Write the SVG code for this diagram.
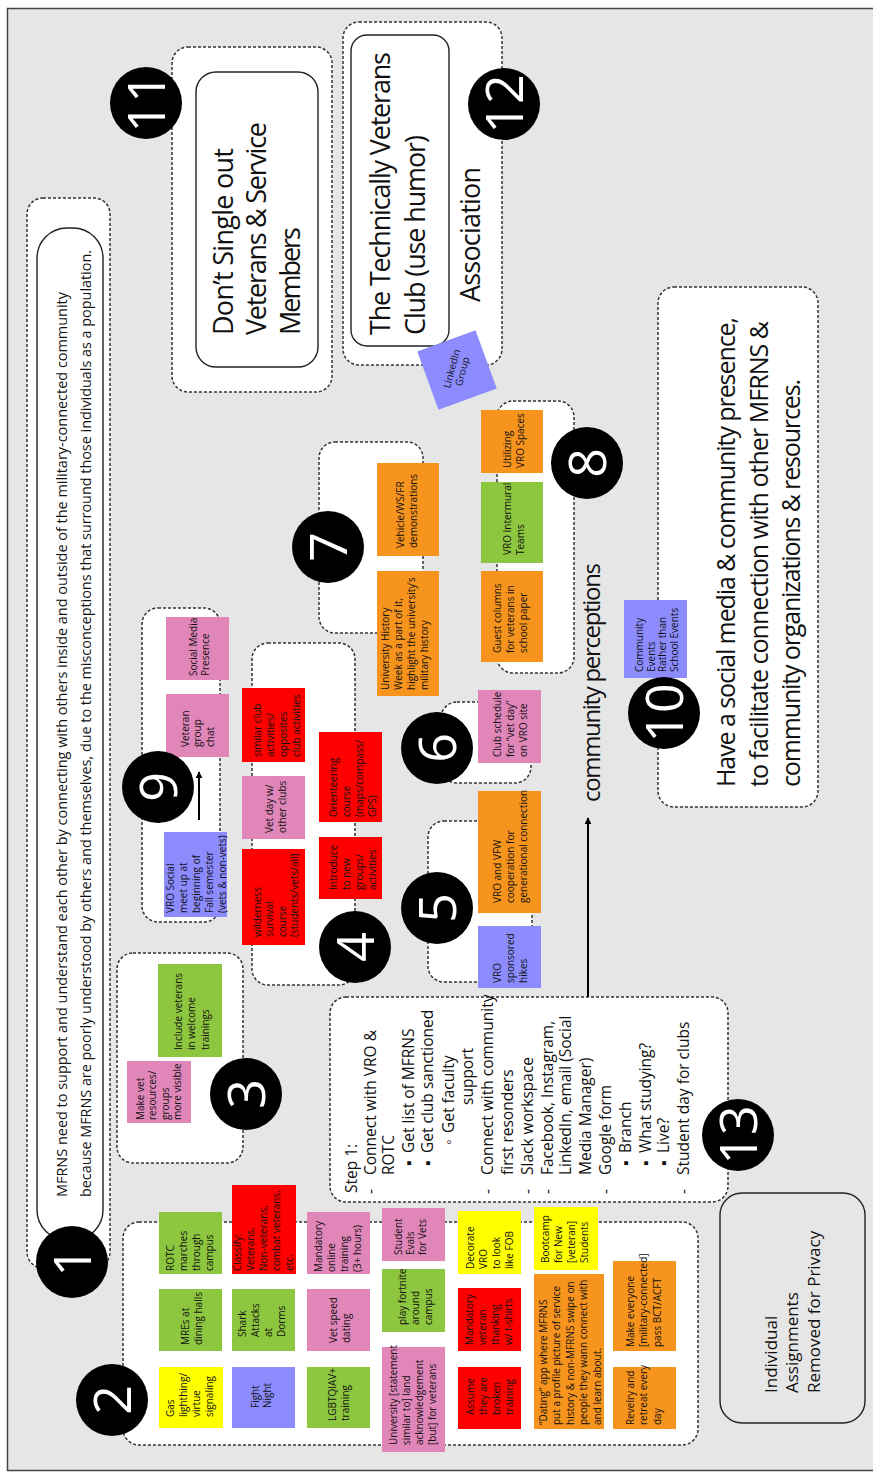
<svg xmlns="http://www.w3.org/2000/svg" width="873" height="1475" viewBox="0 0 873 1475">
<defs>
<marker id="ah" viewBox="0 0 10 10" refX="9" refY="5" markerWidth="7" markerHeight="7" orient="auto" markerUnits="userSpaceOnUse">
<path d="M0,0 L10,5 L0,10 z" fill="#000"/>
</marker>
<style>
.bg{fill:#e6e6e6;stroke:#444;stroke-width:1.5}
.zone{fill:#fff;stroke:#333;stroke-width:1.5;stroke-dasharray:3 2}
.card{fill:#fff;stroke:#222;stroke-width:1.4}
.cardg{fill:#e6e6e6;stroke:#222;stroke-width:1.4}
.y{fill:#ffff00}.g{fill:#8dc63f}.b{fill:#8c8cff}.r{fill:#ff0000}.p{fill:#e086b9}.o{fill:#f7941d}
.st{font-family:"Open Sans","Noto Sans",sans-serif;font-size:10px;fill:#111}
.num{font-family:"Open Sans","Noto Sans",sans-serif;font-size:52px;fill:#fff;text-anchor:middle}
.dot{fill:#000}
.big{font-family:"Open Sans","Noto Sans",sans-serif;fill:#111}
.lst{font-family:"Open Sans","Noto Sans",sans-serif;font-size:15.5px;fill:#111}
.wire{stroke:#000;stroke-width:2;fill:none}
</style>
</defs>

<rect x="-10" y="-10" width="900" height="1500" fill="#fff"/>
<rect class="bg" x="7.5" y="8.5" width="880" height="1462"/>

<!-- dashed zones -->
<g id="zones">
<rect class="zone" x="27" y="198" width="83" height="1070" rx="16"/>
<rect class="zone" x="123" y="1222" width="575" height="223" rx="16"/>
<rect class="zone" x="117" y="953" width="126" height="210" rx="16"/>
<rect class="zone" x="252" y="643" width="103" height="342" rx="16"/>
<rect class="zone" x="428" y="821" width="104" height="161" rx="16"/>
<rect class="zone" x="441" y="702" width="90" height="81" rx="16"/>
<rect class="zone" x="319" y="442" width="104" height="191" rx="16"/>
<rect class="zone" x="497" y="401" width="77" height="272" rx="16"/>
<rect class="zone" x="142" y="608" width="78" height="314" rx="16"/>
<rect class="zone" x="172" y="47" width="160" height="345" rx="16"/>
<rect class="zone" x="343" y="22" width="159" height="343" rx="16"/>
<rect class="zone" x="330" y="997" width="398" height="205" rx="16"/>
<rect class="zone" x="658" y="287" width="160" height="520" rx="16"/>
</g>

<!-- connectors -->
<g id="connectors">
<line class="wire" x1="199" y1="820" x2="199" y2="772" marker-end="url(#ah)"/>
<line class="wire" x1="588" y1="997" x2="588" y2="818" marker-end="url(#ah)" stroke-width="1.6"/>
</g>

<!-- 1: problem statement -->
<g id="n1">
<rect class="card" x="37" y="228" width="66" height="1012" rx="30"/>
<g transform="rotate(-90)">
<text class="big" font-size="15" x="-1197" y="67" textLength="905" lengthAdjust="spacingAndGlyphs">MFRNS need to support and understand each other by connecting with others inside and outside of the military-connected community</text>
<text class="big" font-size="15" x="-1197" y="91" textLength="947" lengthAdjust="spacingAndGlyphs">because MFRNS are poorly understood by others and themselves, due to the misconceptions that surround those individuals as a population.</text>
</g>
</g>

<!-- 11 -->
<g id="n11">
<rect class="card" x="196" y="72" width="122" height="295" rx="20"/>
<g transform="rotate(-90)" class="big" font-size="27">
<text x="-335" y="233" textLength="187">Don’t Single out</text>
<text x="-335" y="266" textLength="213">Veterans &amp; Service</text>
<text x="-335" y="300" textLength="108">Members</text>
</g>
</g>

<!-- 12 -->
<g id="n12">
<rect class="card" x="351" y="35" width="98" height="311" rx="16"/>
<g transform="rotate(-90)" class="big" font-size="27">
<text x="-335" y="390" textLength="283">The Technically Veterans</text>
<text x="-335" y="425" textLength="200">Club (use humor)</text>
<text x="-302" y="480" textLength="135">Association</text>
</g>
</g>

<g id="s-linkedin">
<rect class="b" x="-31" y="-31" width="62" height="62" transform="translate(457,370) rotate(-20)"/>
<text class="st" font-size="9" transform="translate(457,370) rotate(-75)" text-anchor="middle"><tspan x="0" y="-2">LinkedIn</tspan><tspan x="0" dy="11">Group</tspan></text>
</g>

<!-- 10 -->
<g id="n10">
<g transform="rotate(-90)" class="big" font-size="25">
<text x="-787" y="735" textLength="470">Have a social media &amp; community presence,</text>
<text x="-787" y="768" textLength="466">to facilitate connection with other MFRNS &amp;</text>
<text x="-787" y="800" textLength="408">community organizations &amp; resources.</text>
</g>
</g>

<g id="label-perceptions">
<text class="big" font-size="24" transform="rotate(-90)" x="-802" y="600" textLength="239">community perceptions</text>
</g>

<!-- 13 -->
<g id="n13">
<g transform="rotate(-90)" class="lst">
<text x="-1193" y="357">Step 1:</text>
<text x="-1194" y="375.5">-</text><text x="-1175" y="375.5">Connect with VRO &amp;</text>
<text x="-1175" y="393.5">ROTC</text>
<text x="-1166" y="413.5">▪</text><text x="-1153" y="413.5">Get list of MFRNS</text>
<text x="-1166" y="432.5">▪</text><text x="-1153" y="432.5">Get club sanctioned</text>
<text x="-1145" y="453.5">◦</text><text x="-1133" y="453.5">Get faculty</text>
<text x="-1105" y="472.5">support</text>
<text x="-1194" y="492.5">-</text><text x="-1175" y="492.5">Connect with community</text>
<text x="-1175" y="512.5">first resonders</text>
<text x="-1194" y="532.5">-</text><text x="-1175" y="532.5">Slack workspace</text>
<text x="-1194" y="552.5">-</text><text x="-1175" y="552.5">Facebook, Instagram,</text>
<text x="-1175" y="570.5">LinkedIn, email (Social</text>
<text x="-1175" y="590.5">Media Manager)</text>
<text x="-1194" y="610.5">-</text><text x="-1175" y="610.5">Google form</text>
<text x="-1166" y="630.5">▪</text><text x="-1153" y="630.5">Branch</text>
<text x="-1166" y="650.5">▪</text><text x="-1153" y="650.5">What studying?</text>
<text x="-1166" y="668.5">▪</text><text x="-1153" y="668.5">Live?</text>
<text x="-1194" y="688.5">-</text><text x="-1175" y="688.5">Student day for clubs</text>
</g>
</g>

<!-- individual assignments -->
<g id="n-private">
<rect class="cardg" x="720" y="1193" width="145" height="230" rx="22"/>
<g transform="rotate(-90)" class="big" font-size="17">
<text x="-1393" y="777">Individual</text>
<text x="-1393" y="798">Assignments</text>
<text x="-1393" y="820">Removed for Privacy</text>
</g>
</g>

<!-- sticky notes: zone 2 -->
<g id="s-gas"><rect class="y" x="159" y="1367" width="64" height="61"/>
<text class="st" transform="rotate(-90)" x="-1417" y="173.5"><tspan>Gas</tspan><tspan x="-1417" dy="13">lighthing/</tspan><tspan x="-1417" dy="13">virtue</tspan><tspan x="-1417" dy="13">signaling</tspan></text></g>
<g id="s-mres"><rect class="g" x="159" y="1289" width="63" height="62"/>
<text class="st" transform="rotate(-90)" x="-1345" y="188.5"><tspan>MREs at</tspan><tspan x="-1345" dy="13">dining halls</tspan></text></g>
<g id="s-rotc"><rect class="g" x="159" y="1212" width="63" height="62"/>
<text class="st" transform="rotate(-90)" x="-1271" y="173.5"><tspan>ROTC</tspan><tspan x="-1271" dy="13">marches</tspan><tspan x="-1271" dy="13">through</tspan><tspan x="-1271" dy="13">campus</tspan></text></g>
<g id="s-fight"><rect class="b" x="232" y="1367" width="63" height="61"/>
<text class="st" transform="rotate(-90)" x="-1408" y="258.5"><tspan>Fight</tspan><tspan x="-1408" dy="12">Night</tspan></text></g>
<g id="s-shark"><rect class="g" x="232" y="1289" width="63" height="62"/>
<text class="st" transform="rotate(-90)" x="-1337" y="245.5"><tspan>Shark</tspan><tspan x="-1337" dy="13">Attacks</tspan><tspan x="-1337" dy="13">at</tspan><tspan x="-1337" dy="13">Dorms</tspan></text></g>
<g id="s-classify"><rect class="r" x="232" y="1185" width="64" height="89"/>
<text class="st" transform="rotate(-90)" x="-1271" y="240.5"><tspan>Classify:</tspan><tspan x="-1271" dy="13">Veterans,</tspan><tspan x="-1271" dy="13">Non-veterans,</tspan><tspan x="-1271" dy="13">combat veterans,</tspan><tspan x="-1271" dy="13">etc.</tspan></text></g>
<g id="s-lgbt"><rect class="g" x="307" y="1367" width="63" height="61"/>
<text class="st" transform="rotate(-90)" x="-1421" y="335.5"><tspan>LGBTQIAV+</tspan><tspan x="-1421" dy="13">training</tspan></text></g>
<g id="s-speed"><rect class="p" x="307" y="1289" width="63" height="62"/>
<text class="st" transform="rotate(-90)" x="-1343" y="336.5"><tspan>Vet speed</tspan><tspan x="-1343" dy="13">dating</tspan></text></g>
<g id="s-online"><rect class="p" x="307" y="1212" width="63" height="62"/>
<text class="st" transform="rotate(-90)" x="-1272" y="321.5"><tspan>Mandatory</tspan><tspan x="-1272" dy="13">online</tspan><tspan x="-1272" dy="13">training</tspan><tspan x="-1272" dy="13">(3+ hours)</tspan></text></g>
<g id="s-univ"><rect class="p" x="382" y="1347" width="63" height="105"/>
<text class="st" transform="rotate(-90)" x="-1445" y="396.5"><tspan>University [statement</tspan><tspan x="-1445" dy="13">similar to] land</tspan><tspan x="-1445" dy="13">acknowledgement</tspan><tspan x="-1445" dy="13">[but] for veterans</tspan></text></g>
<g id="s-fortnite"><rect class="g" x="382" y="1269" width="63" height="63"/>
<text class="st" transform="rotate(-90)" x="-1325" y="405.5"><tspan>play fortnite</tspan><tspan x="-1325" dy="13">around</tspan><tspan x="-1325" dy="13">campus</tspan></text></g>
<g id="s-evals"><rect class="p" x="382" y="1208" width="63" height="53"/>
<text class="st" transform="rotate(-90)" x="-1255" y="401.5"><tspan>Student</tspan><tspan x="-1255" dy="12">Evals</tspan><tspan x="-1255" dy="12">for Vets</tspan></text></g>
<g id="s-decorate"><rect class="y" x="458" y="1211" width="63" height="63"/>
<text class="st" transform="rotate(-90)" x="-1269" y="473.5"><tspan>Decorate</tspan><tspan x="-1269" dy="13">VRO</tspan><tspan x="-1269" dy="13">to look</tspan><tspan x="-1269" dy="13">like FOB</tspan></text></g>
<g id="s-thanking"><rect class="r" x="458" y="1288" width="63" height="63"/>
<text class="st" transform="rotate(-90)" x="-1345" y="472.5"><tspan>Mandatory</tspan><tspan x="-1345" dy="13">veteran</tspan><tspan x="-1345" dy="13">thanking</tspan><tspan x="-1345" dy="13">w/ t-shirts</tspan></text></g>
<g id="s-assume"><rect class="r" x="458" y="1367" width="63" height="62"/>
<text class="st" transform="rotate(-90)" x="-1415" y="473.5"><tspan>Assume</tspan><tspan x="-1415" dy="13">they are</tspan><tspan x="-1415" dy="13">broken</tspan><tspan x="-1415" dy="13">training</tspan></text></g>
<g id="s-bootcamp"><rect class="y" x="534" y="1207" width="64" height="63"/>
<text class="st" transform="rotate(-90)" x="-1263" y="548.5"><tspan>Bootcamp</tspan><tspan x="-1263" dy="13">for New</tspan><tspan x="-1263" dy="13">[veteran]</tspan><tspan x="-1263" dy="13">Students</tspan></text></g>
<g id="s-dating"><rect class="o" x="534" y="1274" width="70" height="155"/>
<text class="st" transform="rotate(-90)" x="-1425" y="546.5"><tspan>“Dating” app where MFRNS</tspan><tspan x="-1425" dy="13.5">put a profile picture of service</tspan><tspan x="-1425" dy="13.5">history &amp; non-MFRNS swipe on</tspan><tspan x="-1425" dy="13.5">people they wann connect with</tspan><tspan x="-1425" dy="13.5">and learn about.</tspan></text></g>
<g id="s-bct"><rect class="o" x="613" y="1261" width="63" height="90"/>
<text class="st" transform="rotate(-90)" x="-1347" y="633.5"><tspan>Make everyone</tspan><tspan x="-1347" dy="13.5">[military-connected]</tspan><tspan x="-1347" dy="13.5">pass BCT/ACFT</tspan></text></g>
<g id="s-revelry"><rect class="o" x="613" y="1367" width="63" height="62"/>
<text class="st" transform="rotate(-90)" x="-1425" y="633.5"><tspan>Revelry and</tspan><tspan x="-1425" dy="13.5">retreat every</tspan><tspan x="-1425" dy="13.5">day</tspan></text></g>

<!-- zone 3 -->
<g id="s-welcome"><rect class="g" x="158" y="964" width="64" height="93"/>
<text class="st" transform="rotate(-90)" x="-1050" y="181.5"><tspan>Include veterans</tspan><tspan x="-1050" dy="13.5">in welcome</tspan><tspan x="-1050" dy="13.5">trainings</tspan></text></g>
<g id="s-visible"><rect class="p" x="127" y="1061" width="64" height="62"/>
<text class="st" transform="rotate(-90)" x="-1120" y="143.5"><tspan>Make vet</tspan><tspan x="-1120" dy="12.5">resources/</tspan><tspan x="-1120" dy="12.5">groups</tspan><tspan x="-1120" dy="12.5">more visible</tspan></text></g>

<!-- zone 9 -->
<g id="s-social"><rect class="p" x="166" y="617" width="63" height="63"/>
<text class="st" transform="rotate(-90)" x="-676" y="196.5"><tspan>Social Media</tspan><tspan x="-676" dy="12.5">Presence</tspan></text></g>
<g id="s-chat"><rect class="p" x="166" y="694" width="63" height="63"/>
<text class="st" transform="rotate(-90)" x="-747" y="188.5"><tspan>Veteran</tspan><tspan x="-747" dy="12.5">group</tspan><tspan x="-747" dy="12.5">chat</tspan></text></g>
<g id="s-meetup"><rect class="b" x="164" y="832" width="63" height="85"/>
<text class="st" transform="rotate(-90)" x="-913" y="173.5"><tspan>VRO Social</tspan><tspan x="-913" dy="13">meet up at</tspan><tspan x="-913" dy="13">beginning of</tspan><tspan x="-913" dy="13">Fall semester</tspan><tspan x="-913" dy="13">(vets &amp; non-vets)</tspan></text></g>

<!-- zone 4 -->
<g id="s-similar"><rect class="r" x="242" y="688" width="63" height="74"/>
<text class="st" transform="rotate(-90)" x="-757" y="260.5"><tspan>similar club</tspan><tspan x="-757" dy="13">activities/</tspan><tspan x="-757" dy="13">opposites</tspan><tspan x="-757" dy="13">club activities</tspan></text></g>
<g id="s-vetday"><rect class="p" x="242" y="776" width="63" height="63"/>
<text class="st" transform="rotate(-90)" x="-833" y="272.5"><tspan>Vet day w/</tspan><tspan x="-833" dy="13">other clubs</tspan></text></g>
<g id="s-wild"><rect class="r" x="242" y="849" width="63" height="96"/>
<text class="st" transform="rotate(-90)" x="-937" y="260.5"><tspan>wilderness</tspan><tspan x="-937" dy="12.5">survival</tspan><tspan x="-937" dy="12.5">course</tspan><tspan x="-937" dy="12.5">(students/vets/all)</tspan></text></g>
<g id="s-orient"><rect class="r" x="319" y="732" width="63" height="90"/>
<text class="st" transform="rotate(-90)" x="-817" y="336.5"><tspan>Orienteering</tspan><tspan x="-817" dy="13">course</tspan><tspan x="-817" dy="13">(maps/compass/</tspan><tspan x="-817" dy="13">GPS)</tspan></text></g>
<g id="s-intro"><rect class="r" x="319" y="837" width="63" height="62"/>
<text class="st" transform="rotate(-90)" x="-890" y="336.5"><tspan>Introduce</tspan><tspan x="-890" dy="13">to new</tspan><tspan x="-890" dy="13">groups/</tspan><tspan x="-890" dy="13">activities</tspan></text></g>

<!-- zone 6 / 5 -->
<g id="s-schedule"><rect class="p" x="478" y="690" width="63" height="73"/>
<text class="st" transform="rotate(-90)" x="-757" y="500.5"><tspan>Club schedule</tspan><tspan x="-757" dy="13">for “vet day”</tspan><tspan x="-757" dy="13">on VRO site</tspan></text></g>
<g id="s-vfw"><rect class="o" x="478" y="791" width="63" height="122"/>
<text class="st" transform="rotate(-90)" x="-903" y="500.5"><tspan>VRO and VFW</tspan><tspan x="-903" dy="13">cooperation for</tspan><tspan x="-903" dy="13">generational connection</tspan></text></g>
<g id="s-hikes"><rect class="b" x="478" y="926" width="63" height="62"/>
<text class="st" transform="rotate(-90)" x="-983" y="500.5"><tspan>VRO</tspan><tspan x="-983" dy="13">sponsored</tspan><tspan x="-983" dy="13">hikes</tspan></text></g>

<!-- zone 7 -->
<g id="s-vehicle"><rect class="o" x="377" y="463" width="62" height="93"/>
<text class="st" transform="rotate(-90)" x="-548" y="403.5"><tspan>Vehicle/WS/FR</tspan><tspan x="-548" dy="13">demonstrations</tspan></text></g>
<g id="s-history"><rect class="o" x="377" y="571" width="62" height="125"/>
<text class="st" transform="rotate(-90)" x="-690" y="388.5"><tspan>University History</tspan><tspan x="-690" dy="13">Week as a part of it,</tspan><tspan x="-690" dy="13">highlight the university’s</tspan><tspan x="-690" dy="13">military history</tspan></text></g>

<!-- zone 8 -->
<g id="s-spaces"><rect class="o" x="481" y="410" width="62" height="63"/>
<text class="st" transform="rotate(-90)" x="-468" y="510.5"><tspan>Utilizing</tspan><tspan x="-468" dy="13">VRO Spaces</tspan></text></g>
<g id="s-intermural"><rect class="g" x="481" y="482" width="62" height="81"/>
<text class="st" transform="rotate(-90)" x="-555" y="510.5"><tspan>VRO Intermural</tspan><tspan x="-555" dy="13">Teams</tspan></text></g>
<g id="s-columns"><rect class="o" x="481" y="571" width="62" height="91"/>
<text class="st" transform="rotate(-90)" x="-653" y="500.5"><tspan>Guest columns</tspan><tspan x="-653" dy="13">for veterans in</tspan><tspan x="-653" dy="13">school paper</tspan></text></g>

<!-- zone 10 -->
<g id="s-community"><rect class="b" x="624" y="600" width="63" height="78"/>
<text class="st" font-size="9.5" transform="rotate(-90)" x="-672" y="643"><tspan>Community</tspan><tspan x="-672" dy="11.5">Events</tspan><tspan x="-672" dy="11.5">Rather than</tspan><tspan x="-672" dy="11.5">School Events</tspan></text></g>

<!-- numbered markers -->
<g id="markers">
<g id="m1"><circle class="dot" cx="72" cy="1262" r="36"/><text class="num" transform="rotate(-90)" x="-1262" y="90.5">1</text></g>
<g id="m2"><circle class="dot" cx="112" cy="1400" r="36"/><text class="num" transform="rotate(-90)" x="-1400" y="130.5">2</text></g>
<g id="m3"><circle class="dot" cx="246" cy="1094" r="36"/><text class="num" transform="rotate(-90)" x="-1094" y="264.5">3</text></g>
<g id="m4"><circle class="dot" cx="355" cy="947" r="36"/><text class="num" transform="rotate(-90)" x="-947" y="373.5">4</text></g>
<g id="m5"><circle class="dot" cx="437" cy="908" r="36"/><text class="num" transform="rotate(-90)" x="-908" y="455.5">5</text></g>
<g id="m6"><circle class="dot" cx="437" cy="748" r="36"/><text class="num" transform="rotate(-90)" x="-748" y="455.5">6</text></g>
<g id="m7"><circle class="dot" cx="328" cy="547" r="36"/><text class="num" transform="rotate(-90)" x="-547" y="346.5">7</text></g>
<g id="m8"><circle class="dot" cx="587" cy="463" r="36"/><text class="num" transform="rotate(-90)" x="-463" y="605.5">8</text></g>
<g id="m9"><circle class="dot" cx="158" cy="787" r="36"/><text class="num" transform="rotate(-90)" x="-787" y="176.5">9</text></g>
<g id="m10"><circle class="dot" cx="664" cy="713" r="36"/><text class="num" transform="rotate(-90)" x="-713" y="682.5">10</text></g>
<g id="m11"><circle class="dot" cx="146" cy="103" r="36"/><text class="num" transform="rotate(-90)" x="-103" y="164.5">11</text></g>
<g id="m12"><circle class="dot" cx="504" cy="104" r="36"/><text class="num" transform="rotate(-90)" x="-104" y="522.5">12</text></g>
<g id="m13"><circle class="dot" cx="738" cy="1135" r="36"/><text class="num" transform="rotate(-90)" x="-1135" y="756.5">13</text></g>
</g>
</svg>
